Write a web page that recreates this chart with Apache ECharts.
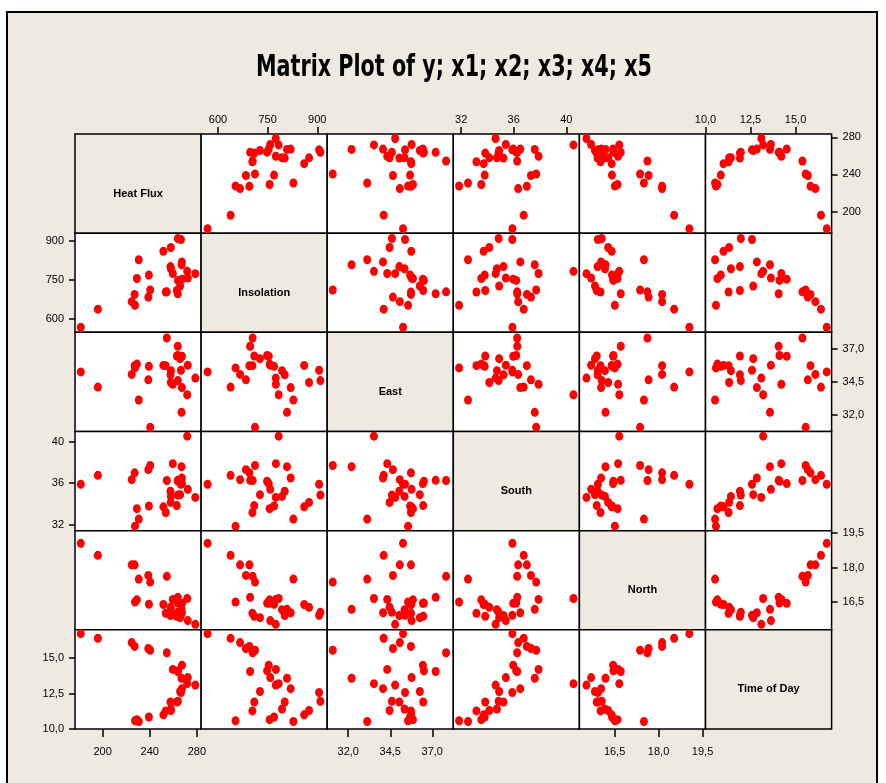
<!DOCTYPE html>
<html><head><meta charset="utf-8">
<script src="https://cdn.jsdelivr.net/npm/echarts@6/dist/echarts.min.js"></script>
<style>html,body{margin:0;padding:0;background:#fff;}#c{width:886px;height:783px;}</style>
</head><body><div id="c"></div>
<script>
// ---- data ----
const titleText = 'Matrix Plot of y; x1; x2; x3; x4; x5';
const varNames = ['Heat Flux', 'Insolation', 'East', 'South', 'North', 'Time of Day'];
const heatFlux = [271.8, 264.0, 238.8, 230.7, 251.6, 257.9, 263.9, 266.5, 229.1, 239.3, 258.0, 257.6, 267.3, 267.0, 259.6, 240.4, 227.2, 196.0, 278.7, 272.3, 267.4, 254.5, 224.7, 181.5, 227.5, 253.6, 263.0, 265.8, 263.8];
const insolation = [783.35, 748.45, 684.45, 827.80, 860.45, 875.15, 909.45, 905.55, 756.00, 769.35, 793.50, 801.65, 819.65, 808.55, 774.95, 711.85, 694.85, 638.10, 774.55, 757.90, 753.35, 704.70, 666.80, 568.55, 653.10, 704.05, 709.60, 726.90, 697.15];
const east = [33.53, 36.50, 34.66, 33.13, 35.75, 34.46, 34.60, 35.38, 35.85, 35.68, 35.35, 35.04, 34.07, 32.20, 34.32, 31.08, 35.73, 34.11, 34.79, 35.77, 36.44, 37.82, 35.07, 35.26, 35.56, 35.73, 36.46, 36.26, 37.20];
const south = [40.55, 36.19, 37.31, 32.52, 33.71, 34.14, 34.85, 35.89, 33.53, 33.79, 34.72, 35.22, 36.50, 37.60, 37.89, 37.71, 37.00, 36.76, 34.62, 35.40, 35.96, 36.26, 36.34, 35.90, 31.84, 33.16, 33.83, 34.89, 36.27];
const north = [16.66, 16.46, 17.66, 17.50, 16.40, 16.28, 16.06, 15.93, 16.60, 16.41, 16.17, 15.92, 16.04, 16.19, 16.62, 17.37, 18.12, 18.53, 15.54, 15.70, 16.45, 17.62, 18.12, 19.05, 16.51, 16.02, 15.89, 15.83, 16.71];
const timeOfDay = [13.20, 14.11, 15.68, 10.53, 11.00, 11.31, 11.96, 12.58, 10.66, 10.85, 11.41, 11.91, 12.85, 13.58, 14.21, 15.56, 15.83, 16.41, 13.10, 13.63, 14.51, 15.38, 16.10, 16.73, 10.58, 11.28, 11.91, 12.65, 14.06];
const tickValues = [[200, 240, 280], [600, 750, 900], [32, 34.5, 37], [32, 36, 40], [16.5, 18, 19.5], [10, 12.5, 15]];
const tickLabels = [['200', '240', '280'], ['600', '750', '900'], ['32,0', '34,5', '37,0'], ['32', '36', '40'], ['16,5', '18,0', '19,5'], ['10,0', '12,5', '15,0']];
const axisMin = [176.6, 549, 30.75, 31.4, 15.3, 10.0];
const axisMax = [283.6, 930, 38.25, 41.0, 19.6, 17.0];

// ---- layout ----
const vars = [heatFlux, insolation, east, south, north, timeOfDay];
const N = 6;
const L = 75, T = 134, CW = 126.1, CH = 99.17;
const BEIGE = '#EEEAE1';
const FONT = '"Liberation Sans", Arial, sans-serif';

const grids = [], xAxes = [], yAxes = [], series = [], graphics = [];

graphics.push({
  type: 'rect', z: -10, silent: true,
  shape: { x: 7, y: 12, width: 870, height: 800 },
  style: { fill: BEIGE, stroke: '#000', lineWidth: 2 }
});

// title, horizontally condensed like the reference
const cv = document.createElement('canvas').getContext('2d');
const titleFont = 'bold 31px "DejaVu Sans", sans-serif';
cv.font = titleFont;
const tw = cv.measureText(titleText).width;
graphics.push({
  type: 'text', z: 100, x: 454, y: 68, scaleX: 396 / tw, silent: true,
  style: { text: titleText, font: titleFont, fill: '#000', textAlign: 'center', textVerticalAlign: 'middle' }
});

function fmt(c) {
  return function (v) {
    const k = tickValues[c].findIndex(t => Math.abs(t - v) < 1e-9);
    return k >= 0 ? tickLabels[c][k] : '';
  };
}

for (let r = 0; r < N; r++) {
  for (let c = 0; c < N; c++) {
    const i = r * N + c;
    const diag = r === c;
    grids.push({
      left: L + c * CW, top: T + r * CH, width: CW, height: CH,
      show: true, backgroundColor: diag ? BEIGE : '#fff',
      borderColor: '#000', borderWidth: 1.5,
      containLabel: false, outerBoundsMode: 'none'
    });
    const topLab = !diag && r === 0 && c % 2 === 1;
    const botLab = !diag && r === N - 1 && c % 2 === 0;
    const showX = topLab || botLab;
    xAxes.push({
      type: 'value', gridIndex: i, min: axisMin[c], max: axisMax[c],
      position: topLab ? 'top' : 'bottom',
      axisLine: { show: false },
      splitLine: { show: false },
      axisTick: { show: showX, inside: false, length: topLab ? 7 : 8, customValues: tickValues[c],
        lineStyle: { color: '#000', width: 1.5 } },
      axisLabel: { show: showX, customValues: tickValues[c], formatter: fmt(c),
        margin: topLab ? 9 : 17, color: '#000', fontSize: 11, fontFamily: FONT }
    });
    const leftLab = !diag && c === 0 && r % 2 === 1;
    const rightLab = !diag && c === N - 1 && r % 2 === 0;
    const showY = leftLab || rightLab;
    yAxes.push({
      type: 'value', gridIndex: i, min: axisMin[r], max: axisMax[r],
      position: rightLab ? 'right' : 'left',
      axisLine: { show: false },
      splitLine: { show: false },
      axisTick: { show: showY, inside: false, length: 6, customValues: tickValues[r],
        lineStyle: { color: '#000', width: 1.5 } },
      axisLabel: { show: showY, customValues: tickValues[r], formatter: fmt(r),
        margin: 11, color: '#000', fontSize: 11, fontFamily: FONT }
    });
    if (diag) {
      graphics.push({
        type: 'text', z: 100, silent: true,
        x: L + c * CW + CW / 2, y: T + r * CH + CH / 2 + 10,
        style: { text: varNames[r], font: 'bold 11px ' + FONT, fill: '#000',
          textAlign: 'center', textVerticalAlign: 'middle' }
      });
    } else {
      series.push({
        type: 'scatter', xAxisIndex: i, yAxisIndex: i, clip: false,
        symbol: 'circle', symbolSize: [8, 9],
        itemStyle: { color: '#FF0000', opacity: 1 },
        emphasis: { disabled: true },
        data: vars[c].map((x, k) => [x, vars[r][k]])
      });
    }
  }
}

const chart = echarts.init(document.getElementById('c'), null, { renderer: 'canvas' });
chart.setOption({
  backgroundColor: '#fff',
  animation: false,
  grid: grids, xAxis: xAxes, yAxis: yAxes, series: series,
  graphic: { elements: graphics }
});
</script></body></html>
